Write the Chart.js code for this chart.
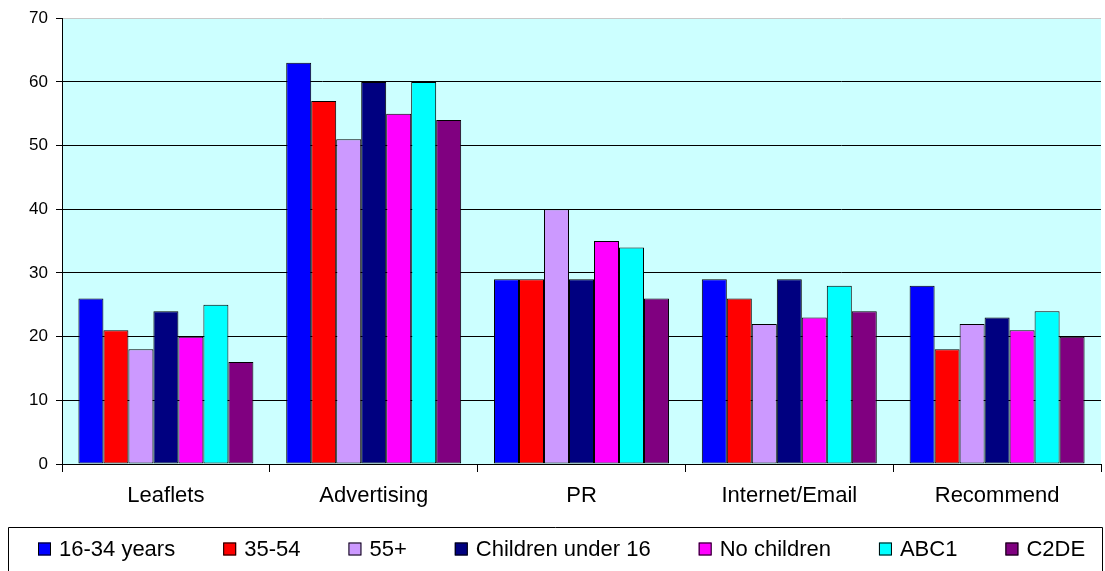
<!DOCTYPE html>
<html>
<head>
<meta charset="utf-8">
<script src="https://cdn.jsdelivr.net/npm/chart.js@4/dist/chart.umd.min.js"></script>
<style>
  html, body { margin: 0; padding: 0; background: #ffffff; }
  #wrap { width: 1105px; height: 571px; position: relative; }
</style>
</head>
<body>
<div id="wrap"><canvas id="c" width="1105" height="571"></canvas></div>
<script>
// Channels
const categories = ['Leaflets', 'Advertising', 'PR', 'Internet/Email', 'Recommend'];

// Respondent groups (% who mention each channel)
const age16to34 = [26, 63, 29, 29, 28];
const age35to54 = [21, 57, 29, 26, 18];
const age55plus = [18, 51, 40, 22, 22];
const childrenUnder16 = [24, 60, 29, 29, 23];
const noChildren = [20, 55, 35, 23, 21];
const abc1 = [25, 60, 34, 28, 24];
const c2de = [16, 54, 26, 24, 20];

const seriesLabels = ['16-34 years', '35-54', '55+', 'Children under 16', 'No children', 'ABC1', 'C2DE'];
const seriesValues = [age16to34, age35to54, age55plus, childrenUnder16, noChildren, abc1, c2de];
const seriesColors = ['#0000FF', '#FF0000', '#CC99FF', '#000080', '#FF00FF', '#00FFFF', '#800080'];

const yTicks = [0, 10, 20, 30, 40, 50, 60, 70];

const FONT = "Arial, 'Liberation Sans', sans-serif";

// Plot area fill and frame
const plotBackground = {
  id: 'plotBackground',
  beforeDraw(chart) {
    const { ctx, chartArea: a } = chart;
    ctx.save();
    ctx.fillStyle = '#CCFFFF';
    ctx.fillRect(a.left, a.top, a.right - a.left, a.bottom - a.top);
    ctx.restore();
  }
};

// Boxed legend drawn under the category labels
const boxedLegend = {
  id: 'boxedLegend',
  afterDraw(chart) {
    const { ctx } = chart;
    const top = 527, left = 8, right = 1102;
    ctx.save();
    ctx.strokeStyle = '#000000';
    ctx.lineWidth = 1;
    ctx.beginPath();
    ctx.moveTo(left + 0.5, 580);
    ctx.lineTo(left + 0.5, top + 0.5);
    ctx.lineTo(right + 0.5, top + 0.5);
    ctx.lineTo(right + 0.5, 580);
    ctx.stroke();

    ctx.font = '22px ' + FONT;
    ctx.textBaseline = 'middle';
    ctx.textAlign = 'left';
    const box = 13, boxGap = 8, itemGap = 48;
    const items = chart.data.datasets.map(ds => ({
      text: ds.label, color: ds.backgroundColor,
      w: box + boxGap + ctx.measureText(ds.label).width
    }));
    const total = items.reduce((s, it) => s + it.w, 0) + itemGap * (items.length - 1);
    let x = Math.round(562 - total / 2);
    const cy = 549;
    items.forEach(it => {
      ctx.fillStyle = it.color;
      ctx.fillRect(x, cy - box / 2, box, box);
      ctx.strokeStyle = '#000000';
      ctx.strokeRect(x + 0.5, cy - box / 2 + 0.5, box - 1, box - 1);
      ctx.fillStyle = '#000000';
      ctx.fillText(it.text, x + box + boxGap, cy + 1);
      x += it.w + itemGap;
    });
    ctx.restore();
  }
};

new Chart(document.getElementById('c'), {
  type: 'bar',
  data: {
    labels: categories,
    datasets: seriesLabels.map((label, i) => ({
      label,
      data: seriesValues[i],
      backgroundColor: seriesColors[i],
      borderColor: '#000000',
      borderWidth: 1,
      borderSkipped: false,
      categoryPercentage: 0.842,
      barPercentage: 1.0
    }))
  },
  options: {
    responsive: false,
    animation: false,
    devicePixelRatio: 1,
    layout: { padding: { top: 16, right: 4, bottom: 0, left: 0 } },
    plugins: {
      legend: { display: false },
      tooltip: { enabled: false }
    },
    scales: {
      x: {
        grid: {
          display: true,
          offset: true,
          drawOnChartArea: false,
          drawTicks: true,
          tickLength: 8,
          color: '#000000'
        },
        border: { display: true, color: '#000000', width: 1 },
        ticks: {
          color: '#000000',
          font: { family: FONT, size: 22 },
          padding: 11,
          maxRotation: 0
        },
        afterFit(scale) { scale.height = 107; }
      },
      y: {
        min: 0,
        max: 70,
        afterBuildTicks(scale) { scale.ticks = yTicks.map(v => ({ value: v })); },
        grid: {
          // top edge of the plot is a pale frame line rather than a gridline
          color: (c) => (c.tick && c.tick.value === 70 ? '#C8C8C8' : '#000000'),
          lineWidth: 1,
          drawTicks: true,
          tickLength: 6,
          tickColor: '#000000'
        },
        border: { display: true, color: '#000000', width: 1 },
        ticks: {
          color: '#000000',
          font: { family: FONT, size: 17 },
          padding: 8
        },
        afterFit(scale) { scale.width = 62; }
      }
    }
  },
  plugins: [plotBackground, boxedLegend]
});
</script>
</body>
</html>
